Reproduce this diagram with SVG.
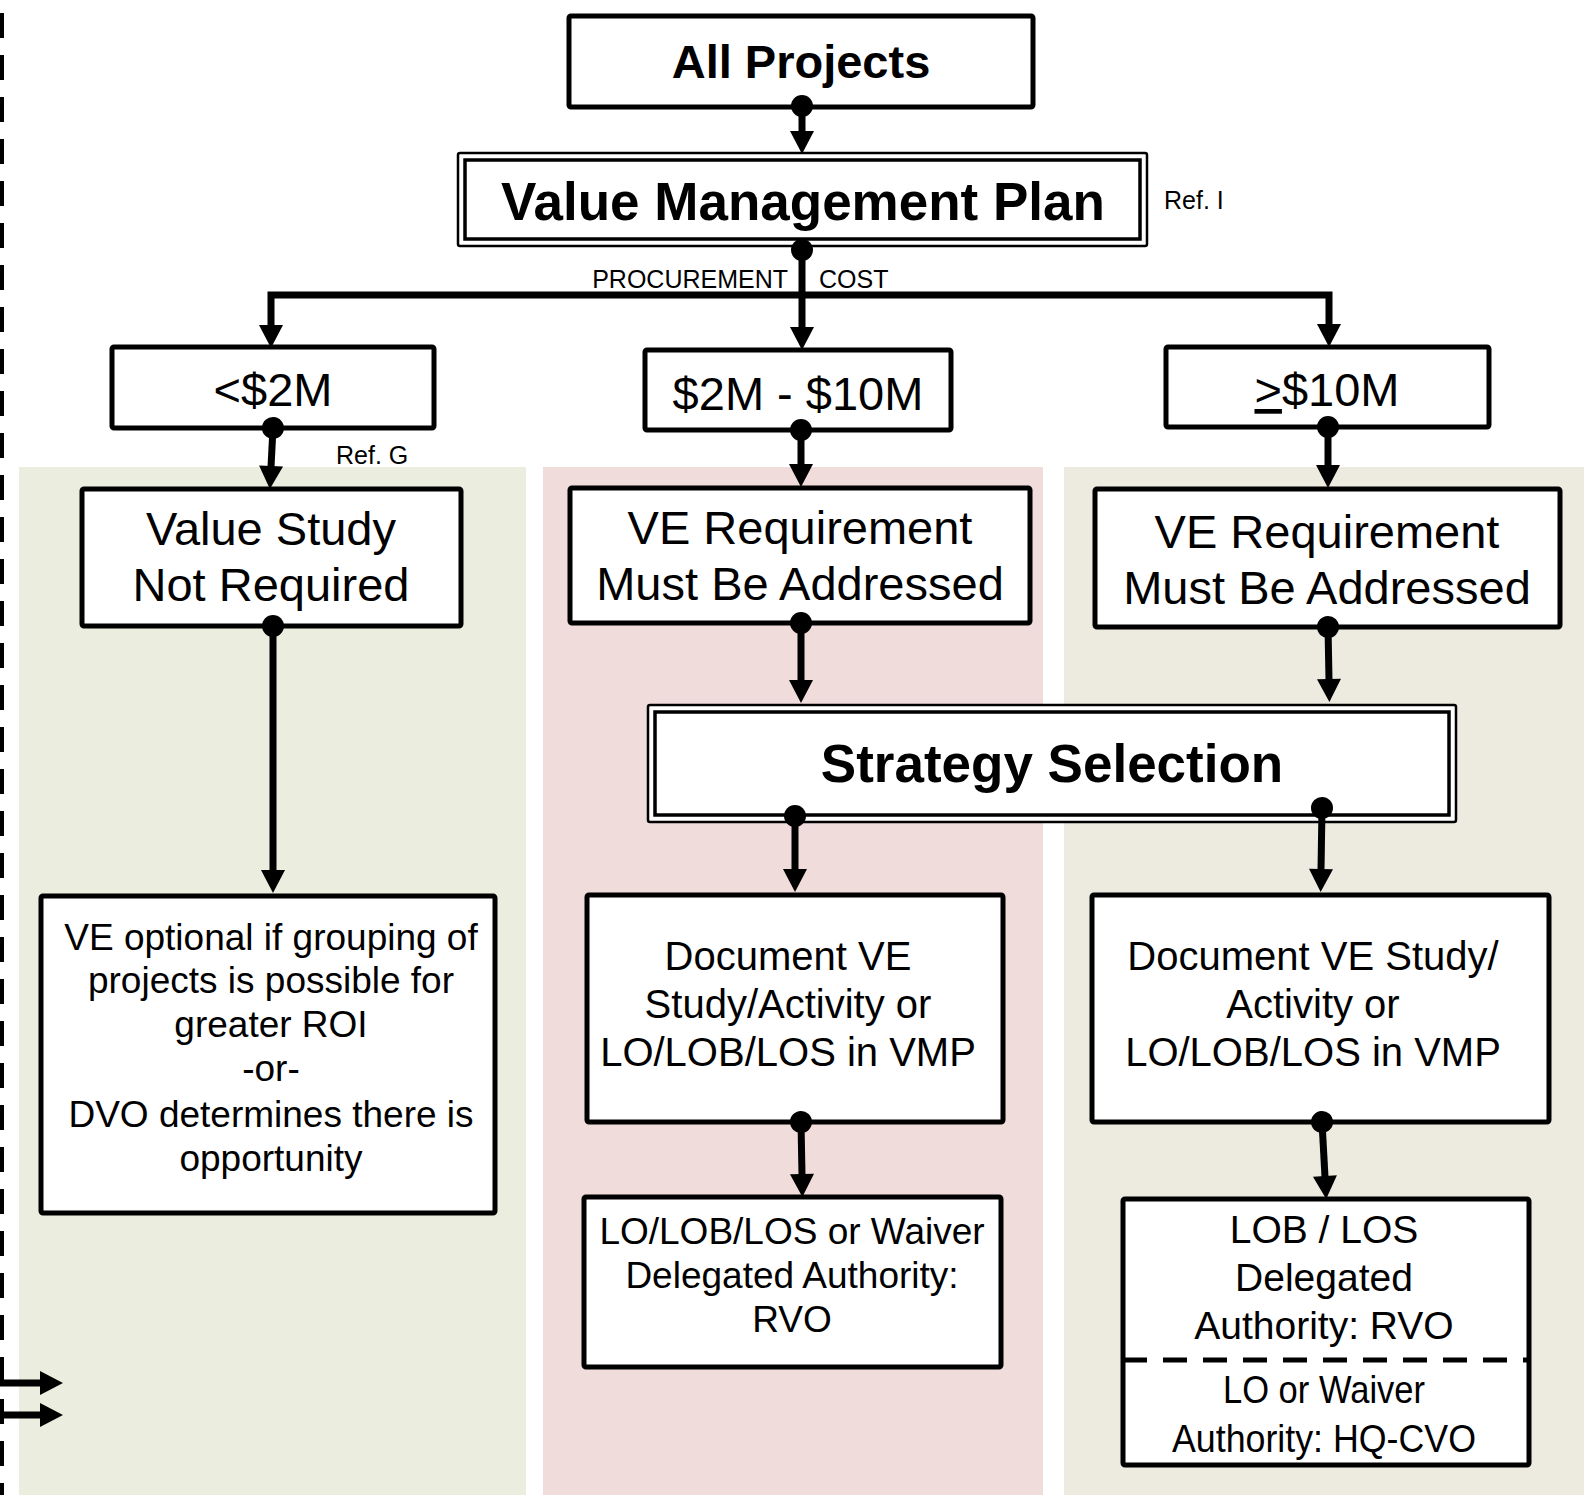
<svg xmlns="http://www.w3.org/2000/svg" width="1584" height="1495" viewBox="0 0 1584 1495" font-family="'Liberation Sans', Arial, sans-serif">
<defs>
<marker id="arr" markerUnits="userSpaceOnUse" markerWidth="26" markerHeight="26" refX="1" refY="13" orient="auto-start-reverse" overflow="visible">
<path d="M0,1 L23,13 L0,25 Z" fill="#000"/>
</marker>
<marker id="dot" markerUnits="userSpaceOnUse" markerWidth="24" markerHeight="24" refX="12" refY="12" orient="auto" overflow="visible">
<circle cx="12" cy="12" r="11" fill="#000"/>
</marker>
</defs>
<style>
text{font-family:"Liberation Sans",Arial,sans-serif;fill:#000;text-anchor:middle}
.box{fill:#fff;stroke:#000;stroke-width:5}
.outer{fill:#fff;stroke:#000;stroke-width:2.5}
.inner{fill:none;stroke:#000;stroke-width:3.5}
.b{font-weight:bold}
.t47{font-size:47px}
.t40{font-size:40px}
.t39{font-size:39px}
.t37{font-size:37px}
.sm{font-size:25px}
.c{fill:none;stroke:#000;stroke-width:7;marker-end:url(#arr)}
.d{marker-start:url(#dot)}
</style>
<rect width="1584" height="1495" fill="#fff"/>
<g id="panels">
<rect x="19" y="467" width="507" height="1028" fill="#EBEEDF"/>
<rect x="543" y="467" width="500" height="1028" fill="#F0DCDB"/>
<rect x="1064" y="467" width="520" height="1028" fill="#EDEAE0"/>
</g>
<g id="left-edge">
<line x1="2" y1="13" x2="2" y2="1495" stroke="#000" stroke-width="4" stroke-dasharray="25 17"/>
</g>
<g id="n-all-projects">
<rect class="box" x="569" y="16" width="464" height="91" rx="2"/>
<text class="b" x="801" y="78" font-size="47">All Projects</text>
</g>
<g id="n-vmp">
<rect class="outer" x="458" y="153" width="689" height="93" rx="2"/>
<rect class="inner" x="465" y="160" width="675" height="79"/>
<text class="b" x="803" y="220" font-size="53">Value Management Plan</text>
</g>
<g id="lbl-refi"><text class="sm" x="1164" y="209" style="text-anchor:start">Ref. I</text></g>
<g id="lbl-proc"><text class="sm" x="788" y="288" style="text-anchor:end">PROCUREMENT</text><text class="sm" x="819" y="288" style="text-anchor:start">COST</text></g>
<g id="n-lt2m">
<rect class="box" x="112" y="347" width="322" height="81" rx="2"/>
<text class="t47" x="273" y="406">&lt;$2M</text>
</g>
<g id="n-2to10">
<rect class="box" x="645" y="350" width="306" height="80" rx="2"/>
<text class="t47" x="798" y="410">$2M - $10M</text>
</g>
<g id="n-ge10">
<rect class="box" x="1166" y="347" width="323" height="80" rx="2"/>
<text class="t47" x="1327" y="406"><tspan text-decoration="underline">&gt;</tspan>$10M</text>
</g>
<g id="lbl-refg"><text class="sm" x="336" y="464" style="text-anchor:start">Ref. G</text></g>
<g id="n-vs-not-required">
<rect class="box" x="82" y="489" width="379" height="137" rx="2"/>
<text class="t47" x="271" y="545">Value Study</text>
<text class="t47" x="271" y="601">Not Required</text>
</g>
<g id="n-ve-req-mid">
<rect class="box" x="570" y="488" width="460" height="135" rx="2"/>
<text class="t47" x="800" y="544">VE Requirement</text>
<text class="t47" x="800" y="600">Must Be Addressed</text>
</g>
<g id="n-ve-req-right">
<rect class="box" x="1095" y="489" width="465" height="138" rx="2"/>
<text class="t47" x="1327" y="548">VE Requirement</text>
<text class="t47" x="1327" y="604">Must Be Addressed</text>
</g>
<g id="n-strategy">
<rect class="outer" x="648" y="705" width="808" height="117" rx="2"/>
<rect class="inner" x="655" y="712" width="794" height="103"/>
<text class="b" x="1052" y="782" font-size="53">Strategy Selection</text>
</g>
<g id="n-ve-optional">
<rect class="box" x="41" y="896" width="454" height="317" rx="2"/>
<text class="t37" x="271" y="950">VE optional if grouping of</text>
<text class="t37" x="271" y="993">projects is possible for</text>
<text class="t37" x="271" y="1037">greater ROI</text>
<text class="t37" x="271" y="1081">-or-</text>
<text class="t37" x="271" y="1127">DVO determines there is</text>
<text class="t37" x="271" y="1171">opportunity</text>
</g>
<g id="n-doc-mid">
<rect class="box" x="587" y="895" width="416" height="227" rx="2"/>
<text class="t40" x="788" y="970">Document VE</text>
<text class="t40" x="788" y="1018">Study/Activity or</text>
<text class="t40" x="788" y="1066">LO/LOB/LOS in VMP</text>
</g>
<g id="n-doc-right">
<rect class="box" x="1092" y="895" width="457" height="227" rx="2"/>
<text class="t40" x="1313" y="970">Document VE Study/</text>
<text class="t40" x="1313" y="1018">Activity or</text>
<text class="t40" x="1313" y="1066">LO/LOB/LOS in VMP</text>
</g>
<g id="n-auth-mid">
<rect class="box" x="584" y="1197" width="417" height="170" rx="2"/>
<text class="t37" x="792" y="1244">LO/LOB/LOS or Waiver</text>
<text class="t37" x="792" y="1288">Delegated Authority:</text>
<text class="t37" x="792" y="1332">RVO</text>
</g>
<g id="n-auth-right">
<rect class="box" x="1123" y="1199" width="406" height="266" rx="2"/>
<line x1="1123" y1="1360" x2="1529" y2="1360" stroke="#000" stroke-width="5" stroke-dasharray="24 16"/>
<text class="t39" x="1324" y="1243">LOB / LOS</text>
<text class="t39" x="1324" y="1291">Delegated</text>
<text class="t39" x="1324" y="1339">Authority: RVO</text>
<text class="t39" x="1324" y="1403" textLength="202" lengthAdjust="spacingAndGlyphs">LO or Waiver</text>
<text class="t39" x="1324" y="1452" textLength="304" lengthAdjust="spacingAndGlyphs">Authority:  HQ-CVO</text>
</g>
<g id="connectors">
<path class="c d" d="M802,106 L802,132"/>
<path class="c d" d="M802,250 L802,328"/>
<path class="c" style="marker-start:url(#arr)" d="M271,326 L271,295 L1329,295 L1329,325"/>
<path class="c d" d="M273,428 L271,467"/>
<path class="c d" d="M801,430 L801,465"/>
<path class="c d" d="M1328,427 L1328,466"/>
<path class="c d" d="M273,626 L273,871"/>
<path class="c d" d="M801,623 L801,681"/>
<path class="c d" d="M1328,627 L1329,680"/>
<path class="c d" d="M795,816 L795,870"/>
<path class="c d" d="M1322,808 L1321,870"/>
<path class="c d" d="M801,1122 L802,1175"/>
<path class="c d" d="M1322,1122 L1325,1177"/>
<path class="c" d="M0,1383 L41,1383"/>
<path class="c" d="M0,1415 L41,1415"/>
</g>
</svg>
